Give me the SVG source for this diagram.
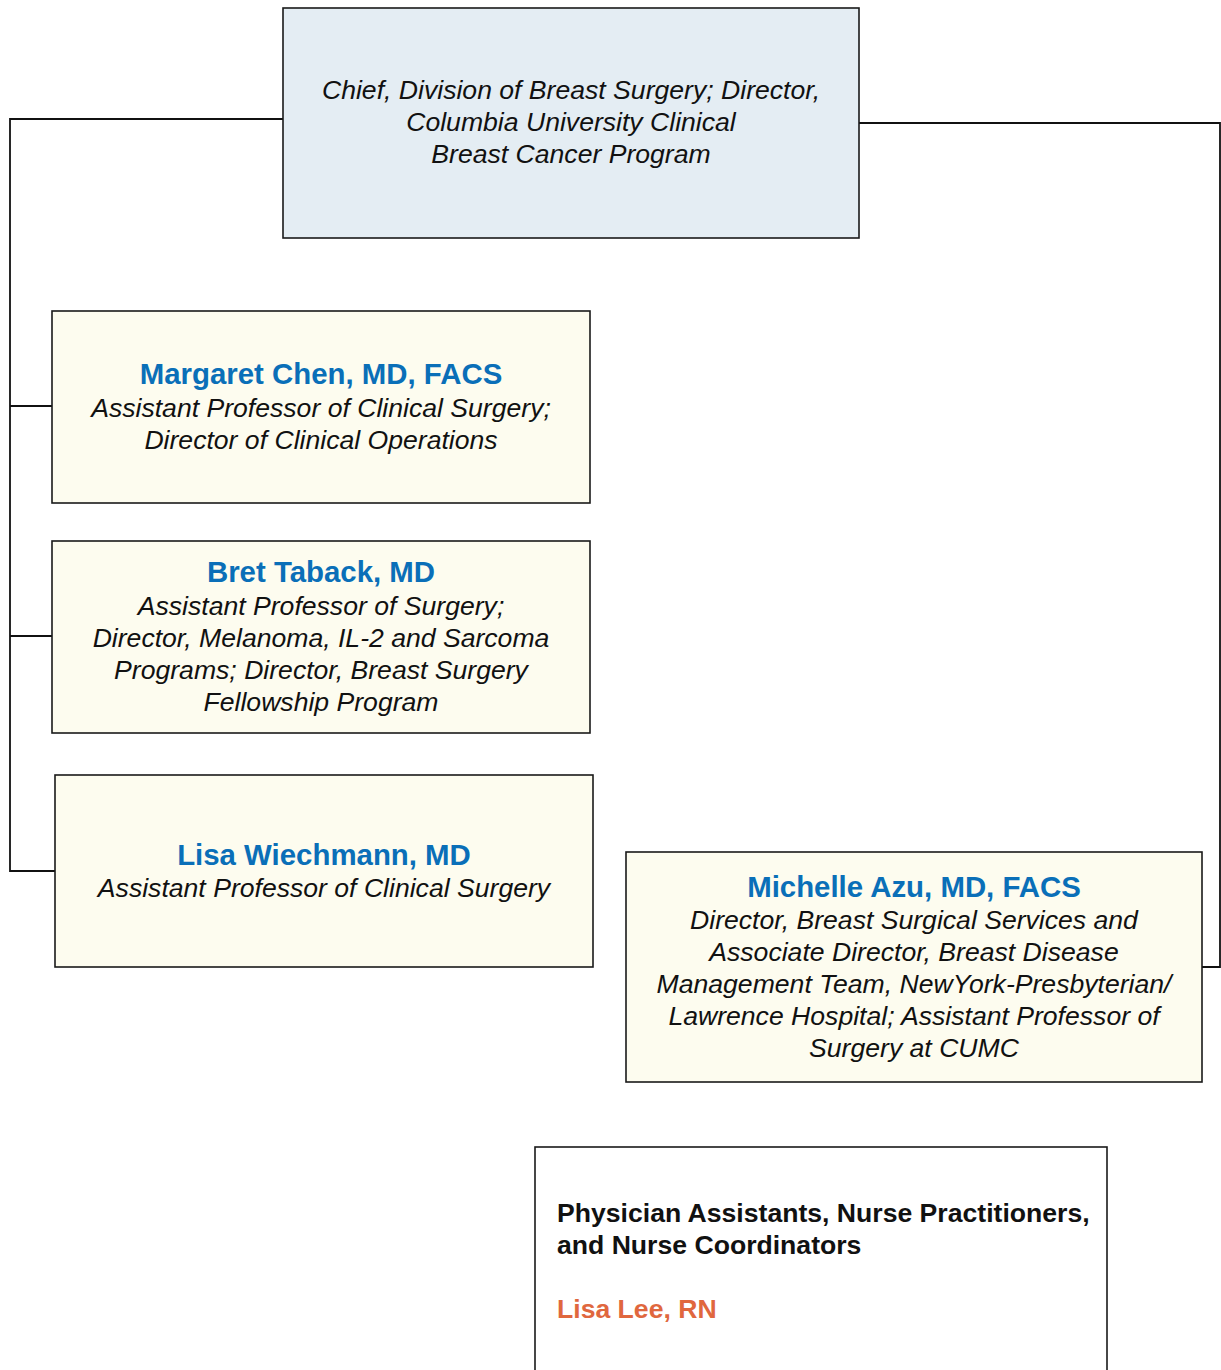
<svg xmlns="http://www.w3.org/2000/svg" width="1221" height="1370" viewBox="0 0 1221 1370">
<style>
.box{stroke:#1a1a1a;stroke-width:1.6}
.top{fill:#e4edf3}
.person{fill:#fdfcef}
.plain{fill:#ffffff}
.conn{fill:none;stroke:#111;stroke-width:1.8}
.name{font-family:"Liberation Sans",Arial,sans-serif;font-weight:bold;font-size:29.4px;fill:#0a6fb8;text-anchor:middle}
.role{font-family:"Liberation Sans",Arial,sans-serif;font-style:italic;font-size:26.6px;fill:#111;text-anchor:middle}
.hdr{font-family:"Liberation Sans",Arial,sans-serif;font-weight:bold;font-size:26.6px;fill:#111}
.nurse{font-family:"Liberation Sans",Arial,sans-serif;font-weight:bold;font-size:26.6px;fill:#e0673e}
</style>
<rect width="1221" height="1370" fill="#ffffff"/>
<g id="connectors">
<polyline class="conn" points="283,119 10,119 10,871 55,871"/>
<line class="conn" x1="10" y1="406" x2="52" y2="406"/>
<line class="conn" x1="10" y1="636" x2="52" y2="636"/>
<polyline class="conn" points="859,123 1220,123 1220,967 1202,967"/>
</g>
<g id="chief">
<rect class="box top" x="283" y="8" width="576" height="230"/>
<text class="role" x="571" y="99">Chief, Division of Breast Surgery; Director,</text>
<text class="role" x="571" y="131">Columbia University Clinical</text>
<text class="role" x="571" y="163">Breast Cancer Program</text>
</g>
<g id="chen">
<rect class="box person" x="52" y="311" width="538" height="192"/>
<text class="name" x="321" y="384">Margaret Chen, MD, FACS</text>
<text class="role" x="321" y="417">Assistant Professor of Clinical Surgery;</text>
<text class="role" x="321" y="449">Director of Clinical Operations</text>
</g>
<g id="taback">
<rect class="box person" x="52" y="541" width="538" height="192"/>
<text class="name" x="321" y="582">Bret Taback, MD</text>
<text class="role" x="321" y="615">Assistant Professor of Surgery;</text>
<text class="role" x="321" y="647">Director, Melanoma, IL-2 and Sarcoma</text>
<text class="role" x="321" y="679">Programs; Director, Breast Surgery</text>
<text class="role" x="321" y="711">Fellowship Program</text>
</g>
<g id="wiechmann">
<rect class="box person" x="55" y="775" width="538" height="192"/>
<text class="name" x="324" y="865">Lisa Wiechmann, MD</text>
<text class="role" x="324" y="897">Assistant Professor of Clinical Surgery</text>
</g>
<g id="azu">
<rect class="box person" x="626" y="852" width="576" height="230"/>
<text class="name" x="914" y="897">Michelle Azu, MD, FACS</text>
<text class="role" x="914" y="929">Director, Breast Surgical Services and</text>
<text class="role" x="914" y="961">Associate Director, Breast Disease</text>
<text class="role" x="914" y="993">Management Team, NewYork-Presbyterian/</text>
<text class="role" x="914" y="1025">Lawrence Hospital; Assistant Professor of</text>
<text class="role" x="914" y="1057">Surgery at CUMC</text>
</g>
<g id="staff">
<rect class="box plain" x="535" y="1147" width="572" height="240"/>
<text class="hdr" x="557" y="1222">Physician Assistants, Nurse Practitioners,</text>
<text class="hdr" x="557" y="1254">and Nurse Coordinators</text>
<text class="nurse" x="557" y="1318">Lisa Lee, RN</text>
</g>
</svg>
